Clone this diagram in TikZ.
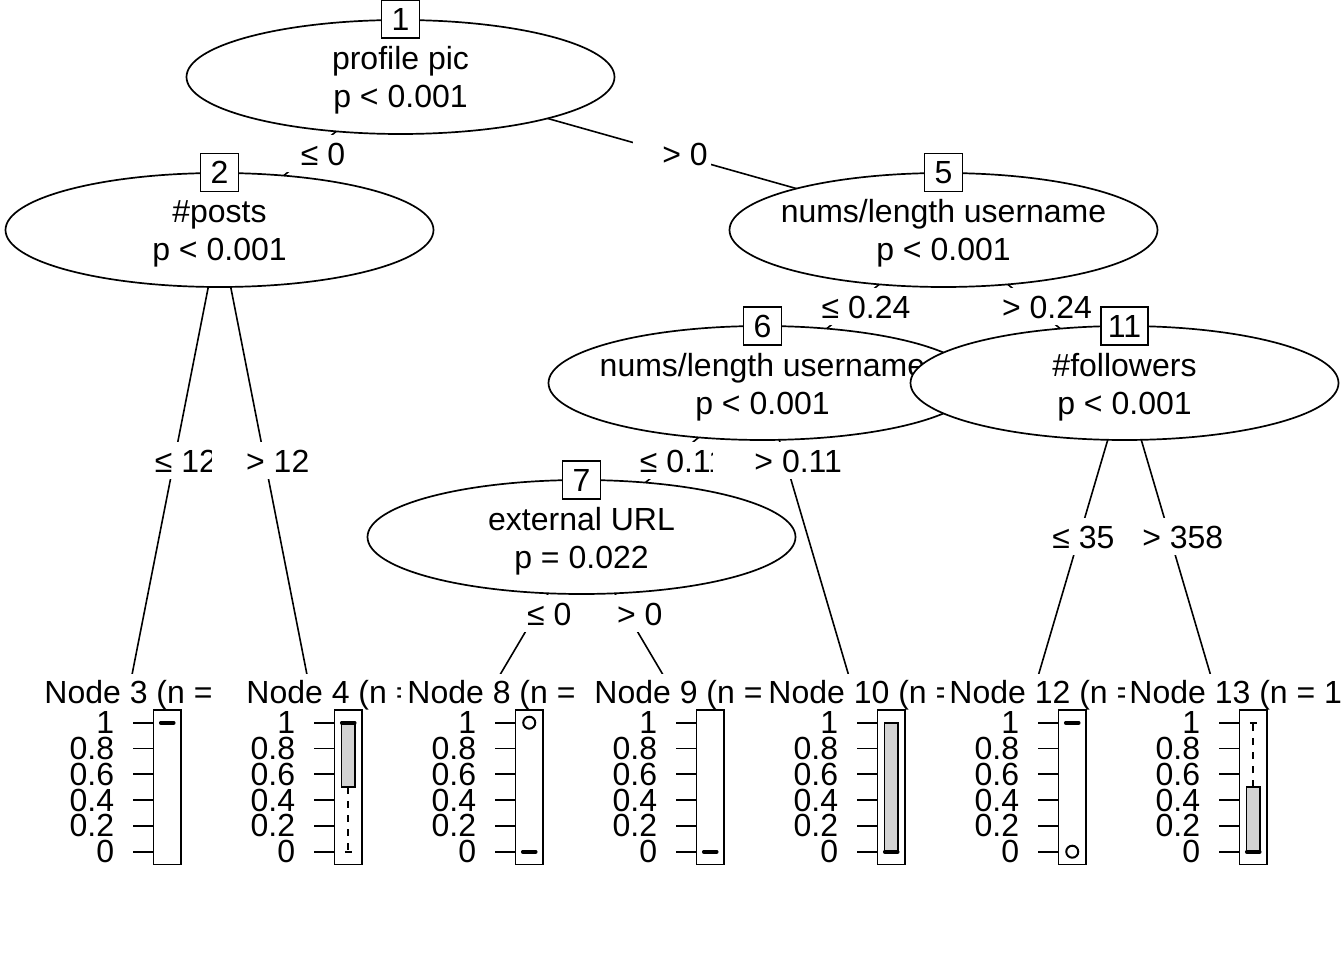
\documentclass[tikz,border=0pt]{standalone}
\usepackage{fontspec}
\setmainfont{Liberation Sans}
\usetikzlibrary{shapes.geometric,calc}
\pgfdeclarelayer{edges}
\pgfsetlayers{edges,main}
\definecolor{boxgray}{HTML}{D3D3D3}

\tikzset{
  splitnode/.style={ellipse, draw, fill=white, minimum width=428pt, minimum height=114pt, inner sep=0pt},
  idbox/.style={draw, fill=white, minimum width=38pt, minimum height=38pt, inner sep=0pt},
  txt/.style={inner sep=0pt, anchor=base},
  lblmask/.style={fill=white, inner xsep=16pt, inner ysep=0pt, minimum height=37pt},
  panel/.style={fill=white, minimum width=181pt, minimum height=191.6pt, inner sep=0pt},
  paneltitle/.style={anchor=base west, inner sep=0pt},
  ticklab/.style={anchor=east, inner sep=0pt},
  tickline/.style={line width=1.9pt},
  medianline/.style={line width=3.6pt, line cap=round},
  whisker/.style={dash pattern=on 7pt off 7pt},
  iqrbox/.style={fill=boxgray, draw=black},
  outlier/.style={line width=2pt},
  connector/.style={line width=1.6pt}
}

% terminal panel: id, centre x, title x, title text
\newcommand\termpanel[4]{%
  \node[panel, anchor=north] (t#1) at (#2,673) {};
  \node[paneltitle] (t#1title) at (#3,703) {#4};
  \foreach \v [count=\k] in {0,0.2,0.4,0.6,0.8,1} {
    \draw[tickline] (#2+4,{851.7-129*\v}) -- (#2+24.5,{851.7-129*\v});
    \node[ticklab] (t#1y\k) at (#2-14,{851.7-129*\v}) {\v};
  }
  \draw (#2+24.5,709.8) rectangle (#2+52,864.6);
}

\begin{document}
\begin{tikzpicture}[x=1pt, y=-1pt, line width=1.7pt, font=\fontsize{32}{38.4}\selectfont]
\useasboundingbox (0,0) rectangle (1344,960);

% root split
\node[splitnode] (n1) at (400.5,77) {};
\node[txt] (n1a) at (400.5,70) {profile pic};
\node[txt] (n1b) at (400.5,108) {p < 0.001};
\node[idbox] (id1) at (400.5,19) {1};

\node[lblmask] (m1a) at (310,153.5) {\phantom{≤ 0}};
\node[txt] (l1a) at (323,165.5) {≤ 0};

% left branch
\node[splitnode] (n2) at (219.5,230) {};
\node[txt] (n2a) at (219.5,223) {\#posts};
\node[txt] (n2b) at (219.5,261) {p < 0.001};
\node[idbox] (id2) at (219.5,172.5) {2};

\node[lblmask] (m2a) at (174.25,460) {\phantom{≤ 12}};
\node[txt] (l2a) at (186,472) {≤ 12};
\termpanel{3}{129}{43.6}{Node 3 (n =}
\draw[medianline] (160.75,722.7) -- (173.75,722.7);

\node[lblmask, inner xsep=21pt] (m2b) at (264.75,460) {\phantom{> 12}};
\node[txt] (l2b) at (277.75,472) {> 12};
\termpanel{4}{310}{245.6}{Node 4 (n =}
\draw[whisker] (348.25,787.2) -- (348.25,851.7);
\draw (344.75,851.7) -- (351.75,851.7);
\draw[iqrbox] (341.35,722.7) rectangle (355.15,787.2);
\draw[medianline] (341.75,722.7) -- (354.75,722.7);

\node[lblmask] (m1b) at (672,153.5) {\phantom{> 0}};
\node[txt] (l1b) at (685,165.5) {> 0};

% right branch
\node[splitnode] (n5) at (943.5,230) {};
\node[txt] (n5a) at (943.5,223) {nums/length username};
\node[txt] (n5b) at (943.5,261) {p < 0.001};
\node[idbox] (id5) at (943.5,172.5) {5};

\node[lblmask] (m5a) at (853,306.5) {\phantom{≤ 0.24}};
\node[txt] (l5a) at (866,318.5) {≤ 0.24};

\node[splitnode] (n6) at (762.5,383) {};
\node[txt] (n6a) at (762.5,376) {nums/length username};
\node[txt] (n6b) at (762.5,414) {p < 0.001};
\node[idbox] (id6) at (762.5,326) {6};

\node[lblmask] (m6a) at (672,460) {\phantom{≤ 0.11}};
\node[txt] (l6a) at (683,472) {≤ 0.11};

\node[splitnode] (n7) at (581.5,537) {};
\node[txt] (n7a) at (581.5,530) {external URL};
\node[txt] (n7b) at (581.5,568) {p = 0.022};
\node[idbox] (id7) at (581.5,480) {7};

\node[lblmask] (m7a) at (536.25,613.5) {\phantom{≤ 0}};
\node[txt] (l7a) at (549.25,625.5) {≤ 0};
\termpanel{8}{491}{406.6}{Node 8 (n =}
\draw[medianline] (522.75,851.7) -- (535.75,851.7);
\draw[outlier] (529.25,722.7) circle (6);

\node[lblmask] (m7b) at (626.75,613.5) {\phantom{> 0}};
\node[txt] (l7b) at (639.75,625.5) {> 0};
\termpanel{9}{672}{593.6}{Node 9 (n =}
\draw[medianline] (703.75,851.7) -- (716.75,851.7);

\node[lblmask, inner xsep=28pt] (m6b) at (785.2,460) {\phantom{> 0.11}};
\node[txt] (l6b) at (798.2,472) {> 0.11};
\termpanel{10}{853}{767.6}{Node 10 (n =}
\draw[iqrbox] (884.35,722.7) rectangle (898.15,851.7);
\draw[medianline] (884.75,851.7) -- (897.75,851.7);

\node[lblmask] (m5b) at (1034,306.5) {\phantom{> 0.24}};
\node[txt] (l5b) at (1047,318.5) {> 0.24};

\node[splitnode] (n11) at (1124.5,383) {};
\node[txt] (n11a) at (1124.5,376) {\#followers};
\node[txt] (n11b) at (1124.5,414) {p < 0.001};
\node[idbox, minimum width=47pt] (id11) at (1124.5,326) {11};

\node[lblmask] (m11a) at (1079.25,536.5) {\phantom{≤ 358}};
\node[txt] (l11a) at (1092.25,548.5) {≤ 358};
\termpanel{12}{1034}{948.6}{Node 12 (n =}
\draw[medianline] (1065.75,722.7) -- (1078.75,722.7);
\draw[outlier] (1072.25,851.7) circle (6);

\node[lblmask] (m11b) at (1169.75,536.5) {\phantom{> 358}};
\node[txt] (l11b) at (1182.75,548.5) {> 358};
\termpanel{13}{1215}{1128.6}{Node 13 (n = 1}
\draw[whisker] (1253.25,787.2) -- (1253.25,722.7);
\draw (1249.75,722.7) -- (1256.75,722.7);
\draw[iqrbox] (1246.35,787.2) rectangle (1260.15,851.7);
\draw[medianline] (1246.75,851.7) -- (1259.75,851.7);

% connectors, kept beneath every node
\begin{pgfonlayer}{edges}
  \draw[connector] (n1.center) -- (n2.center);
  \draw[connector] (n1.center) -- (n5.center);
  \draw[connector] (n2.center) -- ([yshift=-17pt]t3.north);
  \draw[connector] (n2.center) -- ([yshift=-17pt]t4.north);
  \draw[connector] (n5.center) -- (n6.center);
  \draw[connector] (n5.center) -- (n11.center);
  \draw[connector] (n6.center) -- (n7.center);
  \draw[connector] (n6.center) -- ([yshift=-17pt]t10.north);
  \draw[connector] (n7.center) -- ([yshift=-17pt]t8.north);
  \draw[connector] (n7.center) -- ([yshift=-17pt]t9.north);
  \draw[connector] (n11.center) -- ([yshift=-17pt]t12.north);
  \draw[connector] (n11.center) -- ([yshift=-17pt]t13.north);
\end{pgfonlayer}
\end{tikzpicture}
\end{document}
